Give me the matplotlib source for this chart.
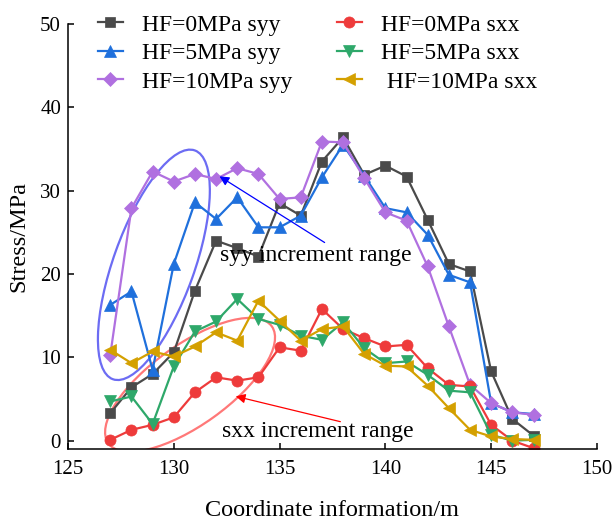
import matplotlib
matplotlib.use("Agg")

import numpy as np
import matplotlib.pyplot as plt
from matplotlib.patches import Ellipse
from matplotlib.transforms import ScaledTranslation

plt.rcParams["font.family"] = ["Liberation Serif", "DejaVu Serif"]

# Coordinate along the line (m)
coord = list(range(127, 148))

# syy for each hydraulic fracturing pressure
syy_hf0 = [3.3, 6.4, 8.0, 10.6, 18.0, 24.0, 23.1, 22.1, 28.5, 27.0, 33.5,
           36.4, 31.9, 33.0, 31.7, 26.5, 21.2, 20.3, 8.3, 2.6, 0.6]
syy_hf5 = [16.3, 17.9, 8.5, 21.2, 28.6, 26.6, 29.2, 25.6, 25.6, 27.0, 31.6,
           35.5, 31.8, 27.9, 27.4, 24.7, 19.9, 19.0, 4.5, 3.4, 3.2]
syy_hf10 = [10.3, 27.9, 32.3, 31.1, 32.0, 31.4, 32.7, 32.0, 29.0, 29.2, 35.9,
            35.8, 31.5, 27.4, 26.4, 20.9, 13.7, 6.7, 4.5, 3.4, 3.1]

# sxx for each hydraulic fracturing pressure
sxx_hf0 = [0.1, 1.3, 1.9, 2.8, 5.8, 7.6, 7.2, 7.6, 11.2, 10.8, 15.8,
           13.4, 12.3, 11.3, 11.5, 8.7, 6.7, 6.5, 1.9, 0.0, -0.9]
sxx_hf5 = [4.7, 5.3, 2.0, 8.9, 13.1, 14.3, 17.0, 14.6, 13.9, 12.6, 12.1,
           14.2, 11.1, 9.3, 9.5, 7.9, 6.0, 5.8, 0.7, 0.0, 0.1]
sxx_hf10 = [10.9, 9.3, 10.7, 10.1, 11.3, 13.0, 12.0, 16.8, 14.4, 12.0, 13.4,
            13.7, 10.4, 9.0, 8.9, 6.6, 3.9, 1.3, 0.5, 0.2, 0.1]

fig = plt.figure(figsize=(6.14, 5.23), dpi=100)
ax = fig.add_axes([0.1107, 0.1415, 0.8616, 0.8126])

series = [
    (syy_hf0, "HF=0MPa syy", "#4a4a4a", "s", 7),
    (syy_hf5, "HF=5MPa syy", "#1f70dc", "^", 9),
    (syy_hf10, "HF=10MPa syy", "#b070e0", "D", 7),
    (sxx_hf0, "HF=0MPa sxx", "#ee3b3b", "o", 8),
    (sxx_hf5, "HF=5MPa sxx", "#2ea86a", "v", 9),
    (sxx_hf10, " HF=10MPa sxx", "#d4a000", "<", 9),
]
for vals, label, color, marker, ms in series:
    ax.plot(coord, vals, color=color, marker=marker, markersize=ms, lw=1.6,
            markeredgecolor=color, markeredgewidth=0.5, label=label)

# Highlight regions
blue_ell = Ellipse((0, 0), 2.43, 0.81, angle=70.3, fill=False,
                   edgecolor="#5c5cf2", lw=1.6, alpha=0.9,
                   transform=fig.dpi_scale_trans + ScaledTranslation(129.06, 21.1, ax.transData))
red_ell = Ellipse((0, 0), 2.01, 0.80, angle=35.6, fill=False,
                  edgecolor="#ff6060", lw=1.6, alpha=0.85,
                  transform=fig.dpi_scale_trans + ScaledTranslation(130.77, 6.7, ax.transData))
ax.add_patch(blue_ell)
ax.add_patch(red_ell)

ax.annotate("", xy=(132.05, 31.9), xytext=(137.24, 23.6),
            arrowprops=dict(arrowstyle="-|>", color="blue", lw=0.9,
                            mutation_scale=14))
ax.annotate("", xy=(132.8, 5.4), xytext=(138.0, 2.2),
            arrowprops=dict(arrowstyle="-|>", color="red", lw=0.9,
                            mutation_scale=14))
ax.text(132.2, 22.2, "syy increment range", fontsize=17, va="center", ha="left")
ax.text(132.3, 1.1, "sxx increment range", fontsize=17, va="center", ha="left")

ax.set_xlim(125, 150)
ax.set_ylim(-1, 50)
ax.set_xticks(np.arange(125, 151, 5))
ax.set_yticks(np.arange(0, 51, 10))
ax.spines["top"].set_visible(False)
ax.spines["right"].set_visible(False)
for s in ("left", "bottom"):
    ax.spines[s].set_linewidth(1.1)
ax.tick_params(axis="both", direction="in", length=4, width=1.1, labelsize=15)
ax.tick_params(axis="x", pad=8)
ax.tick_params(axis="y", pad=5)

ax.set_xlabel("Coordinate information/m", fontsize=17.5, labelpad=15)
ax.set_ylabel("Stress/MPa", fontsize=17.5, labelpad=8)

fig.legend(loc="upper left", bbox_to_anchor=(98 / 614, 1 - 14 / 523), ncol=2,
           frameon=False, fontsize=17, borderpad=0, borderaxespad=0,
           handlelength=1.05, handletextpad=0.8, columnspacing=1.9,
           labelspacing=0.3)

fig.savefig("out.png", dpi=100)
